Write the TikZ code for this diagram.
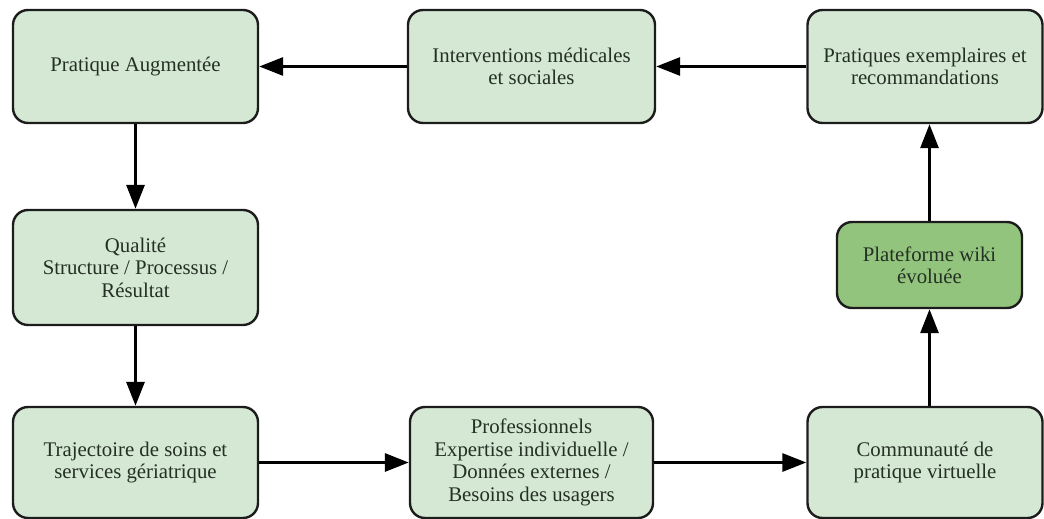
\documentclass[tikz,border=0pt]{standalone}
\usepackage{fontspec}
\setmainfont{Liberation Serif}
\usetikzlibrary{arrows.meta}
\definecolor{boxfill}{HTML}{D5E8D4}
\definecolor{boxdark}{HTML}{93C47D}
\definecolor{boxline}{HTML}{1C1C1C}
\definecolor{boxtext}{HTML}{243024}
\begin{document}
\begin{tikzpicture}[x=1pt,y=-1pt,
  stepbox/.style={draw=boxline, line width=2.4pt, fill=boxfill, rounded corners=15pt,
    align=center, text=boxtext, inner sep=0pt,
    font=\fontsize{20.8}{22.4}\selectfont},
  flow/.style={line width=3pt, draw=black, -{Triangle[length=24pt,width=18pt]}}]
\useasboundingbox (0,0) rectangle (1044,519);
% top row
\node[stepbox, minimum width=245pt, minimum height=113pt] (aug) at (135.5,66.5) {Pratique Augmentée};
\node[stepbox, minimum width=247pt, minimum height=113pt] (interv) at (531.5,66.5) {Interventions médicales\\et sociales};
\node[stepbox, minimum width=235pt, minimum height=113pt] (prat) at (925,66.5) {Pratiques exemplaires et\\recommandations};
% middle row
\node[stepbox, minimum width=245pt, minimum height=115pt] (qual) at (135.5,267.5) {Qualité\\Structure / Processus /\\Résultat};
\node[stepbox, fill=boxdark, minimum width=185pt, minimum height=86pt] (wiki) at (929.5,265) {Plateforme wiki\\évoluée};
% bottom row
\node[stepbox, minimum width=245pt, minimum height=111pt] (traj) at (135.5,462.5) {Trajectoire de soins et\\services gériatrique};
\node[stepbox, minimum width=243pt, minimum height=111pt] (prof) at (531.5,462.5) {Professionnels\\Expertise individuelle /\\Données externes /\\Besoins des usagers};
\node[stepbox, minimum width=235pt, minimum height=111pt] (comm) at (925,462.5) {Communauté de\\pratique virtuelle};
% connectors
\draw[flow] (aug.south) -- (qual.north);
\draw[flow] (qual.south) -- (traj.north);
\draw[flow] (traj.east) -- (prof.west);
\draw[flow] (prof.east) -- (comm.west);
\draw[flow] (wiki.south |- comm.north) -- (wiki.south);
\draw[flow] (wiki.north) -- (wiki.north |- prat.south);
\draw[flow] (prat.west) -- (interv.east);
\draw[flow] (interv.west) -- (aug.east);
\end{tikzpicture}
\end{document}
